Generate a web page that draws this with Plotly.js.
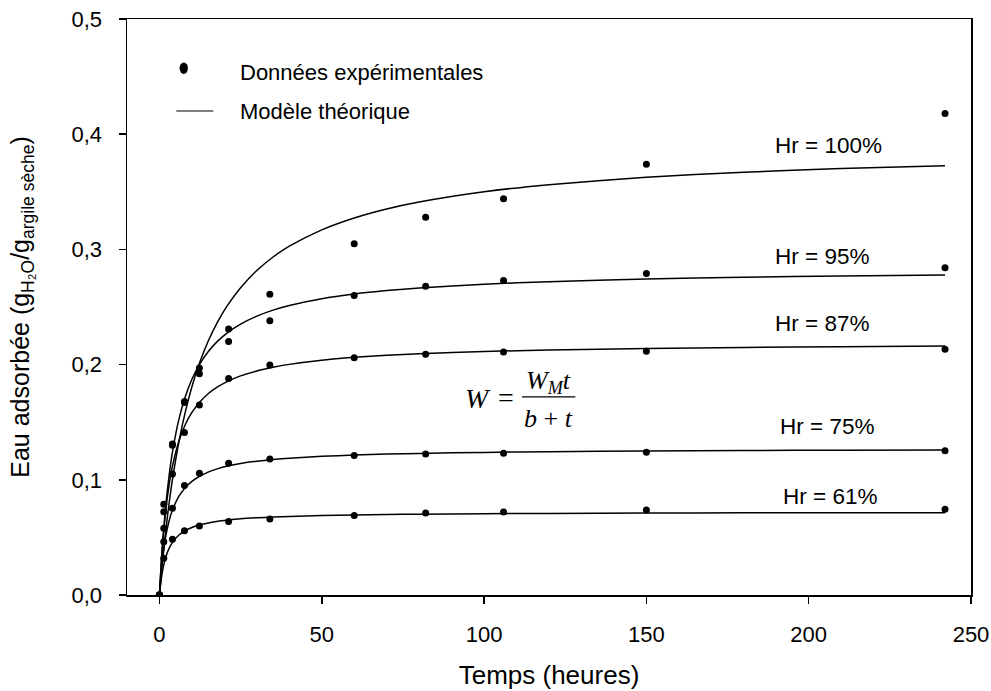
<!DOCTYPE html>
<html>
<head>
<meta charset="utf-8">
<script src="https://cdn.plot.ly/plotly-3.0.1.min.js"></script>
<style>html,body{margin:0;padding:0;background:#fff;}#chart{width:991px;height:691px;}</style>
</head>
<body>
<div id="chart"></div>
<script>
// Experimental data (time in hours, adsorbed water g/g)
const tExp = [0, 1.33, 4, 7.7, 12.3, 21.3, 34, 60, 82, 106, 150, 242];
const exp100 = [0, 0.0787, 0.130, 0.168, 0.197, 0.231, 0.261, 0.305, 0.328, 0.344, 0.374, 0.418];
const exp95  = [0, 0.0723, 0.131, 0.167, 0.192, 0.220, 0.238, 0.260, 0.268, 0.273, 0.279, 0.284];
const exp87  = [0, 0.058, 0.105, 0.141, 0.165, 0.188, 0.1997, 0.206, 0.209, 0.211, 0.2115, 0.2133];
const exp75  = [0, 0.0463, 0.0752, 0.095, 0.1056, 0.1143, 0.118, 0.121, 0.1224, 0.123, 0.124, 0.1253];
const exp61  = [0, 0.0318, 0.0483, 0.0558, 0.0599, 0.0637, 0.066, 0.069, 0.0712, 0.072, 0.0738, 0.0744];

// Model curves
const tMod = [0, 0.5, 1, 2, 3, 4, 6, 8, 10, 12.5, 15, 18, 21, 25, 30, 35, 40, 50, 60, 70, 80, 100, 120, 150, 180, 210, 242];
const mod100 = [0, 0.0161, 0.0310, 0.0574, 0.0803, 0.1002, 0.1332, 0.1594, 0.1808, 0.2026, 0.2203, 0.2375, 0.2516, 0.2668, 0.2817, 0.2934, 0.3028, 0.3170, 0.3273, 0.3351, 0.3411, 0.3500, 0.3562, 0.3626, 0.3670, 0.3702, 0.3727];
const mod95  = [0, 0.0251, 0.0461, 0.0794, 0.1044, 0.1240, 0.1527, 0.1726, 0.1873, 0.2009, 0.2112, 0.2206, 0.2278, 0.2352, 0.2421, 0.2473, 0.2513, 0.2572, 0.2613, 0.2643, 0.2665, 0.2698, 0.2720, 0.2743, 0.2758, 0.2769, 0.2778];
const mod87  = [0, 0.0252, 0.0453, 0.0750, 0.0961, 0.1118, 0.1337, 0.1482, 0.1585, 0.1678, 0.1747, 0.1808, 0.1855, 0.1902, 0.1945, 0.1977, 0.2002, 0.2038, 0.2063, 0.2081, 0.2094, 0.2114, 0.2127, 0.2140, 0.2149, 0.2155, 0.2161];
const mod75  = [0, 0.0187, 0.0326, 0.0519, 0.0647, 0.0737, 0.0858, 0.0934, 0.0987, 0.1033, 0.1067, 0.1097, 0.1119, 0.1141, 0.1161, 0.1176, 0.1188, 0.1204, 0.1215, 0.1223, 0.1229, 0.1238, 0.1244, 0.1250, 0.1254, 0.1257, 0.1259];
const mod61  = [0, 0.0128, 0.0217, 0.0334, 0.0407, 0.0457, 0.0521, 0.0560, 0.0586, 0.0609, 0.0625, 0.0640, 0.0650, 0.0661, 0.0670, 0.0677, 0.0682, 0.0690, 0.0695, 0.0699, 0.0702, 0.0706, 0.0708, 0.0711, 0.0713, 0.0714, 0.0715];

const seriesLabels = ['Hr = 100%', 'Hr = 95%', 'Hr = 87%', 'Hr = 75%', 'Hr = 61%'];
const legendLabels = ['Données expérimentales', 'Modèle théorique'];
const labelX = [189.0, 189.0, 189.0, 190.6, 191.6];
const labelY = [0.3906, 0.2937, 0.2359, 0.1461, 0.0859];
const xTicks = [0, 50, 100, 150, 200, 250];
const yTicks = [0, 0.1, 0.2, 0.3, 0.4, 0.5];

const expSets = [exp100, exp95, exp87, exp75, exp61];
const modSets = [mod100, mod95, mod87, mod75, mod61];

const FONT = 'Liberation Sans, Arial, sans-serif';
const SERIF = 'Liberation Serif, Times New Roman, serif';

const traces = [];
modSets.forEach((m, i) => {
  traces.push({
    x: tMod, y: m, mode: 'lines', type: 'scatter',
    line: {color: '#000', width: 1.5, shape: 'spline', smoothing: 0.6},
    name: legendLabels[1] + ' ' + seriesLabels[i], showlegend: false, hoverinfo: 'skip'
  });
});
expSets.forEach((e, i) => {
  traces.push({
    x: tExp, y: e, mode: 'markers', type: 'scatter',
    marker: {color: '#000', size: 7},
    name: legendLabels[0] + ' ' + seriesLabels[i], showlegend: false
  });
});

const annotations = seriesLabels.map((s, i) => ({
  x: labelX[i], y: labelY[i], xref: 'x', yref: 'y', text: s, showarrow: false,
  xanchor: 'left', yanchor: 'middle', font: {family: FONT, size: 22.5, color: '#000'}
}));
// Legend texts (drawn by hand so the symbol/text spacing matches)
annotations.push({x: 0.1321, y: 0.9063, xref: 'paper', yref: 'paper', text: legendLabels[0], showarrow: false,
  xanchor: 'left', yanchor: 'middle', font: {family: FONT, size: 22, color: '#000'}});
annotations.push({x: 0.1321, y: 0.8391, xref: 'paper', yref: 'paper', text: legendLabels[1], showarrow: false,
  xanchor: 'left', yanchor: 'middle', font: {family: FONT, size: 22, color: '#000'}});
// Equation W = W_M t / (b + t)
annotations.push({x: 98.1, y: 0.171, xref: 'x', yref: 'y', text: '<i>W</i>', showarrow: false,
  xanchor: 'center', yanchor: 'middle', font: {family: SERIF, size: 28, color: '#000'}});
annotations.push({x: 106.8, y: 0.1715, xref: 'x', yref: 'y', text: '=', showarrow: false,
  xanchor: 'center', yanchor: 'middle', font: {family: SERIF, size: 28, color: '#000'}});
annotations.push({x: 119.9, y: 0.1845, xref: 'x', yref: 'y', text: '<i>W<sub>M</sub>t</i>', showarrow: false,
  xanchor: 'center', yanchor: 'middle', font: {family: SERIF, size: 26, color: '#000'}});
annotations.push({x: 119.9, y: 0.1535, xref: 'x', yref: 'y', text: '<i>b</i> + <i>t</i>', showarrow: false,
  xanchor: 'center', yanchor: 'middle', font: {family: SERIF, size: 26, color: '#000'}});

const shapes = [
  // fraction bar
  {type: 'line', xref: 'x', yref: 'y', x0: 111.7, x1: 128.1, y0: 0.1719, y1: 0.1719, line: {color: '#000', width: 1.2}},
  // legend symbols
  {type: 'circle', xref: 'paper', yref: 'paper', x0: 0.0623, x1: 0.0722, y0: 0.9045, y1: 0.9245,
    fillcolor: '#000', line: {color: '#000', width: 0}},
  {type: 'line', xref: 'paper', yref: 'paper', x0: 0.0584, x1: 0.1023, y0: 0.8403, y1: 0.8403,
    line: {color: '#000', width: 1.2}}
];

const layout = {
  width: 991, height: 691,
  margin: {l: 126.7, r: 20.3, t: 19, b: 96, pad: 0},
  paper_bgcolor: '#fff', plot_bgcolor: '#fff',
  separators: ', ',
  showlegend: false,
  xaxis: {
    range: [-10, 250], tickvals: xTicks, ticks: 'outside', ticklen: 7, tickwidth: 1.5, tickcolor: '#000',
    showline: true, linecolor: '#000', linewidth: 1.5, mirror: true, showgrid: false, zeroline: false,
    tickfont: {family: FONT, size: 22, color: '#000'}, ticklabelstandoff: 12,
    title: {text: 'Temps (heures)', font: {family: FONT, size: 26, color: '#000'}, standoff: 20}
  },
  yaxis: {
    range: [0, 0.5], tickvals: yTicks, tickformat: '.1f', ticks: 'outside', ticklen: 7, tickwidth: 1.5, tickcolor: '#000',
    showline: true, linecolor: '#000', linewidth: 1.5, mirror: true, showgrid: false, zeroline: false,
    tickfont: {family: FONT, size: 22, color: '#000'}, ticklabelstandoff: 12,
    title: {text: 'Eau adsorbée (g<sub>H₂O</sub>/g<sub>argile sèche</sub>)', font: {family: FONT, size: 25, color: '#000'}, standoff: 35}
  },
  annotations: annotations,
  shapes: shapes
};

Plotly.newPlot('chart', traces, layout, {displayModeBar: false, staticPlot: true});
</script>
</body>
</html>
